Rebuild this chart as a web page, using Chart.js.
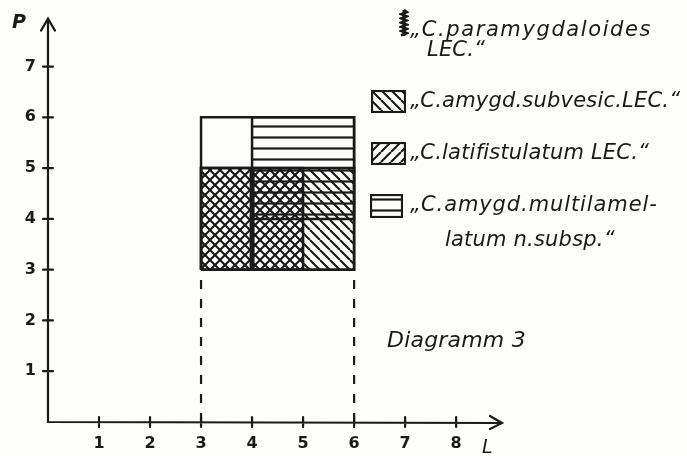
<!DOCTYPE html>
<html>
<head>
<meta charset="utf-8">
<script src="https://cdn.jsdelivr.net/npm/chart.js@4.4.1/dist/chart.umd.min.js"></script>
<style>
  body { margin: 0; background: #fdfdfb; }
  #wrap { position: relative; width: 687px; height: 456px; }
  .txt { position: absolute; font-family: "DejaVu Sans", sans-serif; font-style: italic; font-size: 21px; letter-spacing: 0.2px; color: #1a1a1a; white-space: nowrap; line-height: 1; }
  .sw { position: absolute; }
</style>
</head>
<body>
<div id="wrap">
  <canvas id="chart"></canvas>
  <canvas class="sw" id="sw1" width="10" height="28" style="left:399px;top:9px"></canvas>
  <div class="txt" style="left:410px;top:19px;letter-spacing:1.6px">„C.paramygdaloides</div>
  <div class="txt" style="left:427px;top:39px">LEC.“</div>
  <canvas class="sw" id="sw2" width="35" height="23" style="left:371px;top:90px"></canvas>
  <div class="txt" style="left:410px;top:90px">„C.amygd.subvesic.LEC.“</div>
  <canvas class="sw" id="sw3" width="35" height="23" style="left:371px;top:142px"></canvas>
  <div class="txt" style="left:410px;top:142px">„C.latifistulatum LEC.“</div>
  <canvas class="sw" id="sw4" width="33" height="24" style="left:370px;top:194px"></canvas>
  <div class="txt" style="left:410px;top:194px;letter-spacing:0.9px">„C.amygd.multilamel-</div>
  <div class="txt" style="left:445px;top:229px">latum n.subsp.“</div>
  <div class="txt" style="left:387px;top:329px;font-size:22px">Diagramm 3</div>
  <div class="txt" style="left:12px;top:12px;font-weight:bold;font-size:19px">P</div>
  <div class="txt" style="left:482px;top:437px;font-size:19px">L</div>
</div>
<script>
// ranges (L from..to, P from..to)
const subvesicL = [3, 6];
const subvesicP = [3, 5];
const latifistulatumL = [3, 5];
const latifistulatumP = [3, 5];
const multilamellatumL = [4, 6];
const multilamellatumP = [4, 6];
const paramygdaloidesL = [4, 4];
const paramygdaloidesP = [3, 5];
const frameL = [3, 6];
const frameP = [3, 6];
const dropL = [3, 6];
const xTicks = [1, 2, 3, 4, 5, 6, 7, 8];
const yTicks = [1, 2, 3, 4, 5, 6, 7];

const ink = '#1a1a1a';

function hatch(kind) {
  const c = document.createElement('canvas');
  const s = kind === 'h' ? 11 : 10;
  c.width = 10; c.height = s;
  const g = c.getContext('2d');
  g.strokeStyle = ink;
  g.lineWidth = kind === 'h' ? 2.2 : 2.1;
  g.beginPath();
  if (kind === 'h') {
    g.moveTo(0, 5.5); g.lineTo(10, 5.5);
  } else {
    for (const k of [-10, 0, 10]) {
      if (kind === 'b') { g.moveTo(k, 0); g.lineTo(k + 10, 10); }
      else { g.moveTo(k, 10); g.lineTo(k + 10, 0); }
    }
  }
  g.stroke();
  return g.createPattern(c, 'repeat');
}

function rect(l, p) {
  return [
    {x: l[0], y: p[0]}, {x: l[1], y: p[0]},
    {x: l[1], y: p[1]}, {x: l[0], y: p[1]}, {x: l[0], y: p[0]}
  ];
}

const axesPlugin = {
  id: 'axes',
  afterDraw(chart) {
    const {ctx, chartArea: a, scales: {x, y}} = chart;
    ctx.save();
    ctx.strokeStyle = ink;
    ctx.lineWidth = 2.2;
    ctx.lineCap = 'round';
    ctx.beginPath();
    ctx.moveTo(a.left, a.top - 3); ctx.lineTo(a.left, a.bottom); ctx.lineTo(a.right + 2, a.bottom + 1);
    // arrows
    ctx.moveTo(a.left - 7, a.top + 9); ctx.lineTo(a.left, a.top - 3); ctx.lineTo(a.left + 7, a.top + 9);
    ctx.moveTo(a.right - 10, a.bottom - 6); ctx.lineTo(a.right + 2, a.bottom + 1); ctx.lineTo(a.right - 10, a.bottom + 7);
    xTicks.forEach(v => { const px = x.getPixelForValue(v); ctx.moveTo(px, a.bottom - 5); ctx.lineTo(px, a.bottom + 5); });
    yTicks.forEach(v => { const py = y.getPixelForValue(v); ctx.moveTo(a.left - 5, py); ctx.lineTo(a.left + 5, py); });
    ctx.stroke();
    ctx.restore();
  }
};

const swatch = (id, kind) => {
  const c = document.getElementById(id), g = c.getContext('2d');
  g.fillStyle = hatch(kind);
  g.fillRect(0, 0, c.width, c.height);
  g.strokeStyle = ink; g.lineWidth = 2.2;
  g.strokeRect(1, 1, c.width - 2, c.height - 2);
};
swatch('sw2', 'b'); swatch('sw3', 'f'); swatch('sw4', 'h');
(() => {
  const g = document.getElementById('sw1').getContext('2d');
  g.strokeStyle = ink; g.lineWidth = 2.5;
  g.beginPath(); g.moveTo(5, 1);
  for (let i = 1; i <= 12; i++) g.lineTo(i % 2 ? 8 : 2, 1 + i * 2.1);
  g.stroke();
  g.fillStyle = ink; g.fillRect(3.5, 1, 3, 26);
})();

new Chart(document.getElementById('chart'), {
  type: 'scatter',
  data: {
    datasets: [
      { label: 'frame', data: rect(frameL, frameP), showLine: true, fill: false,
        borderColor: ink, borderWidth: 2.5, pointRadius: 0 },
      { label: 'subvesic', data: rect(subvesicL, subvesicP), showLine: true, fill: 'shape',
        backgroundColor: hatch('b'), borderColor: ink, borderWidth: 2.5, pointRadius: 0 },
      { label: 'latifistulatum', data: rect(latifistulatumL, latifistulatumP), showLine: true, fill: 'shape',
        backgroundColor: hatch('f'), borderColor: ink, borderWidth: 2.5, pointRadius: 0 },
      { label: 'multilamellatum', data: rect(multilamellatumL, multilamellatumP), showLine: true, fill: 'shape',
        backgroundColor: hatch('h'), borderColor: ink, borderWidth: 2.5, pointRadius: 0 },
      { label: 'paramygdaloides', data: paramygdaloidesP.map((p, i) => ({x: paramygdaloidesL[i], y: p})),
        showLine: true, fill: false, borderColor: ink, borderWidth: 5, pointRadius: 0 },
      ...dropL.map(l => ({ label: 'drop', data: [{x: l, y: 0}, {x: l, y: frameP[0]}], showLine: true, fill: false,
        borderColor: ink, borderWidth: 2.2, borderDash: [9, 10], pointRadius: 0 }))
    ]
  },
  options: {
    responsive: true,
    maintainAspectRatio: false,
    animation: false,
    layout: { padding: { top: 12, right: 187, left: 0, bottom: 0 } },
    plugins: { legend: { display: false }, tooltip: { enabled: false } },
    scales: {
      x: {
        type: 'linear', min: 0, max: 8.86,
        grid: { display: false, drawTicks: false },
        border: { display: false },
        afterBuildTicks: s => { s.ticks = xTicks.map(v => ({value: v})); },
        afterFit: s => { s.height = 34; },
        ticks: { color: ink, padding: 12, font: { family: 'DejaVu Sans', size: 16, weight: 'bold' } }
      },
      y: {
        type: 'linear', min: 0, max: 7.885,
        grid: { display: false, drawTicks: false },
        border: { display: false },
        afterBuildTicks: s => { s.ticks = yTicks.map(v => ({value: v})); },
        afterFit: s => { s.width = 48; },
        ticks: { color: ink, padding: 12, font: { family: 'DejaVu Sans', size: 16, weight: 'bold' } }
      }
    }
  },
  plugins: [axesPlugin]
});
</script>
</body>
</html>
